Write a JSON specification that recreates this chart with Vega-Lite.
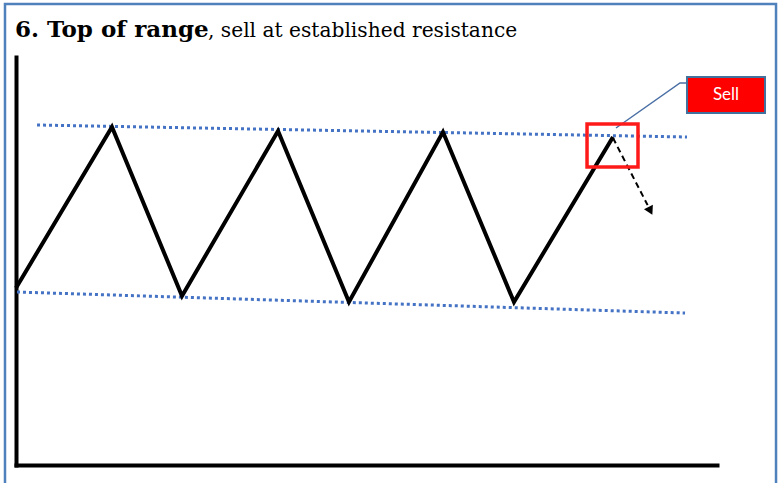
{
  "$schema": "https://vega.github.io/schema/vega-lite/v6.json",
  "width": 701,
  "height": 408,
  "autosize": {"type": "none"},
  "padding": {"left": 16, "top": 57, "right": 62, "bottom": 18},
  "background": "#ffffff",
  "config": {
    "view": {"stroke": null},
    "axis": {"labels": false, "ticks": false, "grid": false, "domainColor": "#000000", "domainWidth": 4, "domainCap": "square"}
  },
  "datasets": {
    "price": [
      {"t": 0, "price": 43.4},
      {"t": 13.69, "price": 82.84},
      {"t": 23.68, "price": 41.42},
      {"t": 37.38, "price": 81.86},
      {"t": 47.5, "price": 39.95},
      {"t": 60.91, "price": 81.62},
      {"t": 71.04, "price": 39.95},
      {"t": 85.16, "price": 80.39}
    ],
    "levels": [
      {"level": "resistance", "t": 3.0, "price": 83.33},
      {"level": "resistance", "t": 95.72, "price": 80.39},
      {"level": "support", "t": 0.14, "price": 42.4},
      {"level": "support", "t": 95.44, "price": 37.25}
    ],
    "projection": [
      {"t": 85.16, "price": 80.15},
      {"t": 90.1, "price": 63.7}
    ],
    "callout": [
      {"t": 85.59, "price": 82.6, "order": 1},
      {"t": 94.72, "price": 93.63, "order": 2},
      {"t": 95.72, "price": 93.63, "order": 3}
    ]
  },
  "layer": [
    {
      "data": {"values": [{"x1": -1.57, "x2": 108.42, "y1": 112.99, "y2": -7.35}]},
      "mark": {"type": "rect", "fill": null, "stroke": "#4F81BD", "strokeWidth": 2.5},
      "encoding": {
        "x": {"field": "x1", "type": "quantitative", "scale": {"domain": [0, 100], "nice": false, "zero": false}, "title": null},
        "x2": {"field": "x2"},
        "y": {"field": "y1", "type": "quantitative", "scale": {"domain": [0, 100], "nice": false, "zero": false}, "title": null},
        "y2": {"field": "y2"}
      }
    },
    {
      "data": {"name": "levels"},
      "mark": {"type": "line", "color": "#4472C4", "strokeWidth": 3, "strokeDash": [3, 3], "strokeCap": "butt"},
      "encoding": {
        "x": {"field": "t", "type": "quantitative", "title": null},
        "y": {"field": "price", "type": "quantitative", "title": null},
        "detail": {"field": "level"}
      }
    },
    {
      "data": {"name": "price"},
      "mark": {"type": "line", "color": "#000000", "strokeWidth": 4, "strokeJoin": "miter"},
      "encoding": {
        "x": {"field": "t", "type": "quantitative", "title": null},
        "y": {"field": "price", "type": "quantitative", "title": null}
      }
    },
    {
      "data": {"name": "projection"},
      "mark": {"type": "line", "color": "#000000", "strokeWidth": 2, "strokeDash": [6, 4]},
      "encoding": {
        "x": {"field": "t", "type": "quantitative", "title": null},
        "y": {"field": "price", "type": "quantitative", "title": null}
      }
    },
    {
      "data": {"values": [{"t": 90.5, "price": 62.3}]},
      "mark": {"type": "point", "shape": "triangle-up", "filled": true, "color": "#000000", "size": 100, "angle": 153, "opacity": 1},
      "encoding": {
        "x": {"field": "t", "type": "quantitative", "title": null},
        "y": {"field": "price", "type": "quantitative", "title": null}
      }
    },
    {
      "data": {"name": "callout"},
      "mark": {"type": "line", "color": "#4A6FA5", "strokeWidth": 1.5},
      "encoding": {
        "x": {"field": "t", "type": "quantitative", "title": null},
        "y": {"field": "price", "type": "quantitative", "title": null},
        "order": {"field": "order"}
      }
    },
    {
      "data": {"values": [{"x1": 81.46, "x2": 88.73, "y1": 83.58, "y2": 73.04}]},
      "mark": {"type": "rect", "fill": null, "stroke": "#FF1A1A", "strokeWidth": 3.5},
      "encoding": {
        "x": {"field": "x1", "type": "quantitative", "title": null},
        "x2": {"field": "x2"},
        "y": {"field": "y1", "type": "quantitative", "title": null},
        "y2": {"field": "y2"}
      }
    },
    {
      "data": {"values": [{"x1": 95.72, "x2": 106.85, "y1": 95.1, "y2": 86.27}]},
      "mark": {"type": "rect", "fill": "#FF0000", "stroke": "#41719C", "strokeWidth": 2},
      "encoding": {
        "x": {"field": "x1", "type": "quantitative", "title": null},
        "x2": {"field": "x2"},
        "y": {"field": "y1", "type": "quantitative", "title": null},
        "y2": {"field": "y2"}
      }
    },
    {
      "data": {"values": [{"label": "Sell", "t": 101.28, "price": 90.69}]},
      "mark": {"type": "text", "color": "#ffffff", "font": "Lato", "fontSize": 17, "align": "center", "baseline": "middle"},
      "encoding": {
        "x": {"field": "t", "type": "quantitative", "title": null},
        "y": {"field": "price", "type": "quantitative", "title": null},
        "text": {"field": "label"}
      }
    },
    {
      "data": {"values": [{"label": "6. Top of range", "t": -0.14, "price": 104.9}]},
      "mark": {"type": "text", "color": "#000000", "font": "DejaVu Serif", "fontSize": 23, "fontWeight": "bold", "align": "left", "baseline": "alphabetic"},
      "encoding": {
        "x": {"field": "t", "type": "quantitative", "title": null},
        "y": {"field": "price", "type": "quantitative", "title": null},
        "text": {"field": "label"}
      }
    },
    {
      "data": {"values": [{"label": ", sell at established resistance", "t": 27.39, "price": 104.9}]},
      "mark": {"type": "text", "color": "#000000", "font": "DejaVu Serif", "fontSize": 20.2, "align": "left", "baseline": "alphabetic"},
      "encoding": {
        "x": {"field": "t", "type": "quantitative", "title": null},
        "y": {"field": "price", "type": "quantitative", "title": null},
        "text": {"field": "label"}
      }
    }
  ]
}
